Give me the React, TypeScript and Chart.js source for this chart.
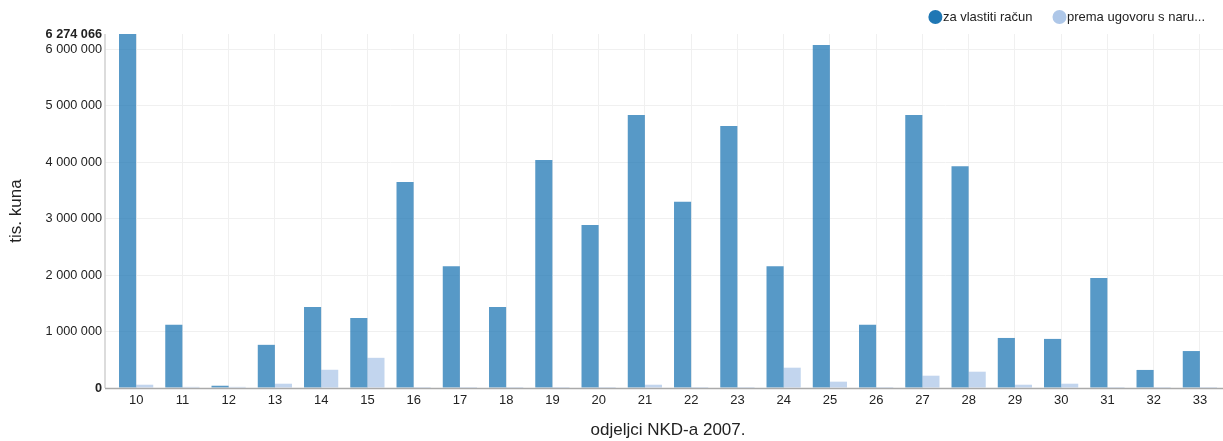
import React, { useEffect, useRef } from "react";
import { Chart, registerables } from "chart.js";

Chart.register(...registerables);

const categories = ["10","11","12","13","14","15","16","17","18","19","20","21","22","23","24","25","26","27","28","29","30","31","32","33"];
const seriesNames = ["za vlastiti račun", "prema ugovoru s naru..."];
const ownAccount = [6274066, 1120000, 40000, 765000, 1436000, 1242000, 3650000, 2160000, 1436000, 4040000, 2890000, 4840000, 3300000, 4645000, 2160000, 6080000, 1120000, 4840000, 3930000, 887000, 870000, 1950000, 320000, 655000];
const byContract = [58000, 20000, 20000, 76000, 323000, 535000, 18000, 18000, 18000, 18000, 18000, 58000, 18000, 18000, 360000, 112000, 18000, 218000, 289000, 58000, 76000, 18000, 18000, 18000];
const yTicks = [0, 1000000, 2000000, 3000000, 4000000, 5000000, 6000000, 6274066];
const yMax = 6274066;
const xTitle = "odjeljci NKD-a 2007.";
const yTitle = "tis. kuna";
const seriesColors = ["#1f77b4", "#aec7e8"];
const barColors = ["rgba(31,119,180,0.75)", "rgba(174,199,232,0.75)"];

const FONT = "'Liberation Sans', Arial, sans-serif";

const fmt = (v: number) => String(Math.round(v)).replace(/\B(?=(\d{3})+(?!\d))/g, " ");

const axisLines = {
  id: "axisLines",
  afterDatasetsDraw(chart: any) {
    const { ctx, chartArea } = chart;
    ctx.save();
    ctx.lineWidth = 1.5;
    ctx.strokeStyle = "#d0d0d0";
    ctx.beginPath();
    ctx.moveTo(chartArea.left - 8, chartArea.top);
    ctx.lineTo(chartArea.left - 8, chartArea.bottom);
    ctx.stroke();
    ctx.strokeStyle = "#aaaaaa";
    ctx.beginPath();
    ctx.moveTo(chartArea.left - 8, chartArea.bottom + 0.5);
    ctx.lineTo(chart.width, chartArea.bottom + 0.5);
    ctx.stroke();
    ctx.restore();
  },
};

const topLegend = {
  id: "topLegend",
  afterDraw(chart: any) {
    const { ctx } = chart;
    ctx.save();
    ctx.font = `13px ${FONT}`;
    ctx.textBaseline = "middle";
    ctx.textAlign = "left";
    const y = 17;
    const r = 7;
    const gapText = 7.5;
    const gapItem = 20;
    let x = chart.width - 18;
    const items = chart.data.datasets.map((ds: any, i: number) => ({ text: ds.label, color: seriesColors[i] }));
    const placed: any[] = [];
    for (let i = items.length - 1; i >= 0; i--) {
      const w = ctx.measureText(items[i].text).width;
      const tx = x - w;
      const cx = tx - gapText;
      placed.push({ ...items[i], tx, cx });
      x = cx - r - gapItem;
    }
    placed.forEach((p) => {
      ctx.fillStyle = p.color;
      ctx.beginPath();
      ctx.arc(p.cx, y, r, 0, Math.PI * 2);
      ctx.fill();
      ctx.fillStyle = "#222";
      ctx.fillText(p.text, p.tx, y);
    });
    ctx.restore();
  },
};

export default function App() {
  const ref = useRef<HTMLCanvasElement | null>(null);
  useEffect(() => {
    document.body.style.margin = "0";
    const chart = new Chart(ref.current as HTMLCanvasElement, {
      type: "bar",
      data: {
        labels: categories,
        datasets: [
          { label: seriesNames[0], data: ownAccount, backgroundColor: barColors[0], borderWidth: 0 },
          { label: seriesNames[1], data: byContract, backgroundColor: barColors[1], borderWidth: 0 },
        ],
      },
      options: {
        animation: false,
        responsive: true,
        maintainAspectRatio: false,
        layout: { padding: { top: 34, right: 0, left: 0, bottom: 0 } },
        datasets: { bar: { categoryPercentage: 0.74, barPercentage: 1 } },
        plugins: {
          legend: { display: false },
          tooltip: { enabled: false },
        },
        scales: {
          x: {
            offset: true,
            grid: { offset: false, color: "#f0f0f0", drawTicks: false },
            border: { display: false },
            ticks: { color: "#222", padding: 5, font: { family: FONT, size: 13 }, maxRotation: 0, autoSkip: false },
            title: { display: true, text: xTitle, color: "#222", font: { family: FONT, size: 17 }, padding: { top: 0, bottom: 0 } },
            afterFit: (s: any) => { s.height = 53; },
          },
          y: {
            min: 0,
            max: yMax,
            grid: {
              color: (c: any) => (c.tick && c.tick.value === yMax ? "rgba(0,0,0,0)" : "#f0f0f0"),
              drawTicks: true,
              tickLength: 8,
            },
            border: { display: false },
            afterBuildTicks: (s: any) => { s.ticks = yTicks.map((v) => ({ value: v })); },
            ticks: {
              padding: 3,
              color: "#222",
              font: (c: any) => ({
                family: FONT,
                size: 12.7,
                weight: c.tick && (c.tick.value === 0 || c.tick.value === yMax) ? "bold" : "normal",
              }),
              callback: (v: any) => fmt(Number(v)),
            },
            title: { display: true, text: yTitle, color: "#222", font: { family: FONT, size: 17 }, padding: { top: 6, bottom: 0 } },
            afterFit: (s: any) => { s.width = 113; },
          },
        },
      } as any,
      plugins: [axisLines, topLegend],
    });
    return () => chart.destroy();
  }, []);
  return (
    <div style={{ position: "absolute", left: 0, top: 0, width: 1223, height: 441 }}>
      <canvas ref={ref} />
    </div>
  );
}
